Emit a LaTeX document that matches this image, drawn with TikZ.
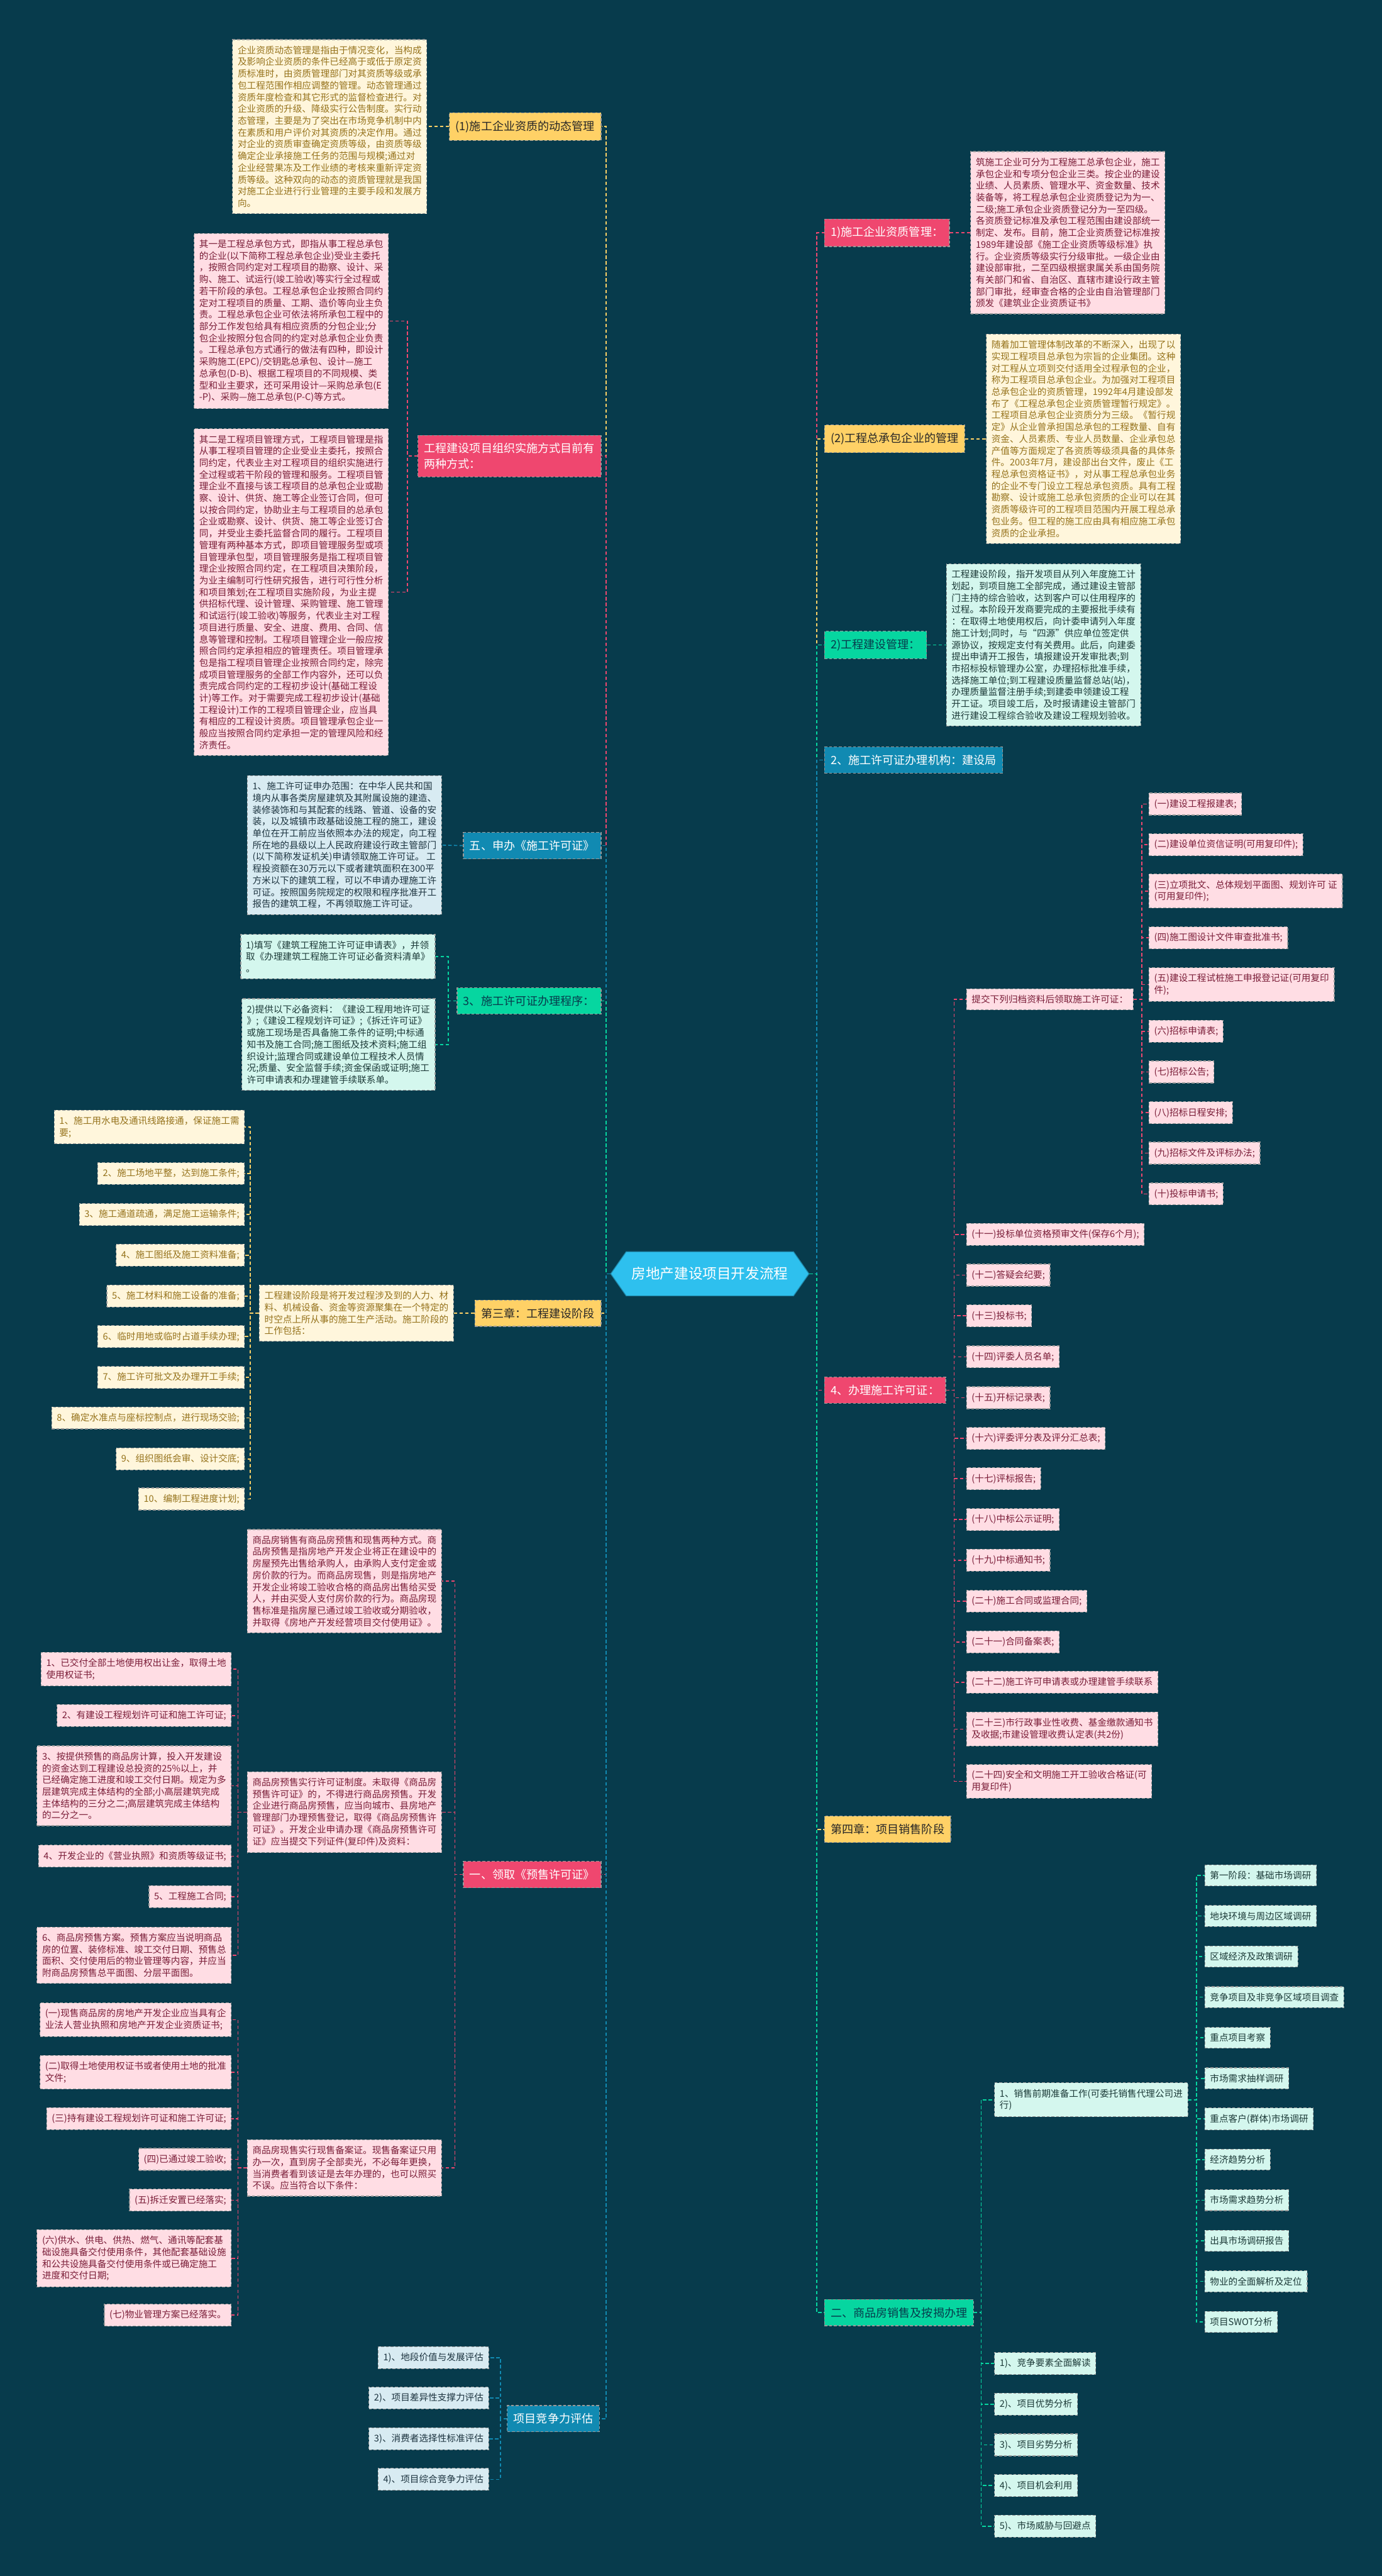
\documentclass[tikz,border=0pt]{standalone}
\usepackage{fontspec}
\setmainfont{Noto Sans CJK SC}
\usetikzlibrary{shapes.symbols}

\definecolor{bgc}{HTML}{073B4C}
\definecolor{pnkc}{HTML}{EF476F}
\definecolor{yelc}{HTML}{FFD166}
\definecolor{grnc}{HTML}{06D6A0}
\definecolor{bluc}{HTML}{118AB2}
\definecolor{hubc}{HTML}{2EC0EE}
\definecolor{pnkl}{HTML}{FFDDE4}
\definecolor{pnkt}{HTML}{7A1D38}
\definecolor{yell}{HTML}{FFF6DC}
\definecolor{yelt}{HTML}{96731C}
\definecolor{grnl}{HTML}{D4F7EE}
\definecolor{grnt}{HTML}{1C3A38}
\definecolor{blul}{HTML}{D8EBF2}
\definecolor{blut}{HTML}{1D3440}

\tikzset{
  conn/.style={draw=#1, line width=0.55pt, dash pattern=on 1.8pt off 1.2pt},
  topic/.style={rectangle, draw=black!40, dash pattern=on 1.5pt off 1pt, line width=0.4pt,
    inner xsep=0.115cm, inner ysep=0.145cm, font=\fontsize{6}{8.1}\selectfont, align=left},
  hub/.style={signal, signal to=west and east, signal pointer angle=110, fill=hubc,
    draw=hubc!70!black, line width=0.4pt, text=white, font=\fontsize{7.5}{9}\selectfont,
    minimum height=0.82cm, inner xsep=0.1cm},
  leaf/.style={rectangle, draw=black!40, dash pattern=on 1.5pt off 1pt, line width=0.4pt,
    inner xsep=0.095cm, inner ysep=0.115cm, font=\fontsize{4.85}{6.2}\selectfont, align=left},
  pkleaf/.style={leaf, fill=pnkl, text=pnkt},
  ylleaf/.style={leaf, fill=yell, text=yelt},
  gnleaf/.style={leaf, fill=grnl, text=grnt},
  blleaf/.style={leaf, fill=blul, text=blut},
}

\begin{document}
\begin{tikzpicture}[x=0.03044cm, y=-0.03044cm]
\useasboundingbox (0,0) rectangle (841,1567.3);
\fill[bgc] (0,0) rectangle (841,1567.3);

% centre
\node[hub] (hub) at (432,775) {房地产建设项目开发流程};

% ---------- left side ----------
\node[topic, fill=yelc, text=black!85, anchor=east] (dyn) at (366,77) {(1)施工企业资质的动态管理};
\node[ylleaf, anchor=east] (dynT) at (260,77) {企业资质动态管理是指由于情况变化，当构成\\及影响企业资质的条件已经高于或低于原定资\\质标准时，由资质管理部门对其资质等级或承\\包工程范围作相应调整的管理。动态管理通过\\资质年度检查和其它形式的监督检查进行。对\\企业资质的升级、降级实行公告制度。实行动\\态管理，主要是为了突出在市场竞争机制中内\\在素质和用户评价对其资质的决定作用。通过\\对企业的资质审查确定资质等级，由资质等级\\确定企业承接施工任务的范围与规模;通过对\\企业经营果冻及工作业绩的考核来重新评定资\\质等级。这种双向的动态的资质管理就是我国\\对施工企业进行行业管理的主要手段和发展方\\向。};
\draw[conn=yelc] (dyn.west) -- (dynT.east);

\node[topic, fill=pnkc, text=white, anchor=east] (org) at (366,277.5) {工程建设项目组织实施方式目前有\\两种方式：};
\node[pkleaf, anchor=east] (orgA) at (236.6,195.3) {其一是工程总承包方式，即指从事工程总承包\\的企业(以下简称工程总承包企业)受业主委托\\，按照合同约定对工程项目的勘察、设计、采\\购、施工、试运行(竣工验收)等实行全过程或\\若干阶段的承包。工程总承包企业按照合同约\\定对工程项目的质量、工期、造价等向业主负\\责。工程总承包企业可依法将所承包工程中的\\部分工作发包给具有相应资质的分包企业;分\\包企业按照分包合同的约定对总承包企业负责\\。工程总承包方式通行的做法有四种，即设计\\采购施工(EPC)/交钥匙总承包、设计—施工\\总承包(D-B)、根据工程项目的不同规模、类\\型和业主要求，还可采用设计—采购总承包(E\\-P)、采购—施工总承包(P-C)等方式。};
\node[pkleaf, anchor=east] (orgB) at (236.6,360.3) {其二是工程项目管理方式，工程项目管理是指\\从事工程项目管理的企业受业主委托，按照合\\同约定，代表业主对工程项目的组织实施进行\\全过程或若干阶段的管理和服务。工程项目管\\理企业不直接与该工程项目的总承包企业或勘\\察、设计、供货、施工等企业签订合同，但可\\以按合同约定，协助业主与工程项目的总承包\\企业或勘察、设计、供货、施工等企业签订合\\同，并受业主委托监督合同的履行。工程项目\\管理有两种基本方式，即项目管理服务型或项\\目管理承包型，项目管理服务是指工程项目管\\理企业按照合同约定，在工程项目决策阶段，\\为业主编制可行性研究报告，进行可行性分析\\和项目策划;在工程项目实施阶段，为业主提\\供招标代理、设计管理、采购管理、施工管理\\和试运行(竣工验收)等服务，代表业主对工程\\项目进行质量、安全、进度、费用、合同、信\\息等管理和控制。工程项目管理企业一般应按\\照合同约定承担相应的管理责任。项目管理承\\包是指工程项目管理企业按照合同约定，除完\\成项目管理服务的全部工作内容外，还可以负\\责完成合同约定的工程初步设计(基础工程设\\计)等工作。对于需要完成工程初步设计(基础\\工程设计)工作的工程项目管理企业，应当具\\有相应的工程设计资质。项目管理承包企业一\\般应当按照合同约定承担一定的管理风险和经\\济责任。};
\draw[conn=pnkc] (org.west) -- ++(-6,0) |- (orgA.east);
\draw[conn=pnkc] (org.west) -- ++(-6,0) |- (orgB.east);

\node[topic, fill=bluc, text=white, anchor=east] (permit) at (366,514.5) {五、申办《施工许可证》};
\node[blleaf, anchor=east] (permitT) at (269,514.2) {1、施工许可证申办范围：在中华人民共和国\\境内从事各类房屋建筑及其附属设施的建造、\\装修装饰和与其配套的线路、管道、设备的安\\装，以及城镇市政基础设施工程的施工，建设\\单位在开工前应当依照本办法的规定，向工程\\所在地的县级以上人民政府建设行政主管部门\\(以下简称发证机关)申请领取施工许可证。 工\\程投资额在30万元以下或者建筑面积在300平\\方米以下的建筑工程，可以不申请办理施工许\\可证。按照国务院规定的权限和程序批准开工\\报告的建筑工程，不再领取施工许可证。};
\draw[conn=bluc] (permit.west) -- (permitT.east);

\node[topic, fill=grnc, text=bgc, anchor=east] (proc) at (366,609) {3、施工许可证办理程序：};
\node[gnleaf, anchor=east] (procA) at (265,582) {1)填写《建筑工程施工许可证申请表》，并领\\取《办理建筑工程施工许可证必备资料清单》\\。};
\node[gnleaf, anchor=east] (procB) at (265,635.5) {2)提供以下必备资料：《建设工程用地许可证\\》;《建设工程规划许可证》;《拆迁许可证》\\或施工现场是否具备施工条件的证明;中标通\\知书及施工合同;施工图纸及技术资料;施工组\\织设计;监理合同或建设单位工程技术人员情\\况;质量、安全监督手续;资金保函或证明;施工\\许可申请表和办理建管手续联系单。};
\draw[conn=grnc] (proc.west) -- ++(-5,0) |- (procA.east);
\draw[conn=grnc] (proc.west) -- ++(-5,0) |- (procB.east);

\node[topic, fill=yelc, text=black!85, anchor=east] (build) at (366,799) {第三章：工程建设阶段};
\node[ylleaf, anchor=east] (buildT) at (276.3,799) {工程建设阶段是将开发过程涉及到的人力、材\\料、机械设备、资金等资源聚集在一个特定的\\时空点上所从事的施工生产活动。施工阶段的\\工作包括：};
\draw[conn=yelc] (build.west) -- (buildT.east);
\foreach \n/\yy/\lbl in {1/685.7/1、施工用水电及通讯线路接通，保证施工需\\要;,
  2/714/2、施工场地平整，达到施工条件;, 3/738.9/3、施工通道疏通，满足施工运输条件;,
  4/763.7/4、施工图纸及施工资料准备;, 5/788.5/5、施工材料和施工设备的准备;,
  6/813.2/6、临时用地或临时占道手续办理;, 7/838/7、施工许可批文及办理开工手续;,
  8/862.7/8、确定水准点与座标控制点，进行现场交验;, 9/887.6/9、组织图纸会审、设计交底;,
  10/912/10、编制工程进度计划;}{
  \node[ylleaf, anchor=east] (bs\n) at (149,\yy) {\lbl};
  \draw[conn=yelc] (buildT.west) -- ++(-5.3,0) |- (bs\n.east);
}

\node[topic, fill=pnkc, text=white, anchor=east] (presale) at (366,1140.5) {一、领取《预售许可证》};
\node[pkleaf, anchor=east] (saleA) at (269,962) {商品房销售有商品房预售和现售两种方式。商\\品房预售是指房地产开发企业将正在建设中的\\房屋预先出售给承购人，由承购人支付定金或\\房价款的行为。而商品房现售，则是指房地产\\开发企业将竣工验收合格的商品房出售给买受\\人，并由买受人支付房价款的行为。商品房现\\售标准是指房屋已通过竣工验收或分期验收，\\并取得《房地产开发经营项目交付使用证》。};
\node[pkleaf, anchor=east] (saleB) at (269,1102.6) {商品房预售实行许可证制度。未取得《商品房\\预售许可证》的，不得进行商品房预售。开发\\企业进行商品房预售，应当向城市、县房地产\\管理部门办理预售登记，取得《商品房预售许\\可证》。开发企业申请办理《商品房预售许可\\证》应当提交下列证件(复印件)及资料：};
\node[pkleaf, anchor=east] (saleC) at (269,1319) {商品房现售实行现售备案证。现售备案证只用\\办一次，直到房子全部卖光，不必每年更换，\\当消费者看到该证是去年办理的，也可以照买\\不误。应当符合以下条件：};
\foreach \t in {saleA, saleB, saleC}
  \draw[conn=pnkc] (presale.west) -- ++(-5,0) |- (\t.east);
\foreach \n/\yy/\lbl in {1/1015.5/1、已交付全部土地使用权出让金，取得土地\\使用权证书;,
  2/1043.8/2、有建设工程规划许可证和施工许可证;,
  3/1086.5/3、按提供预售的商品房计算，投入开发建设\\的资金达到工程建设总投资的25\%以上，并\\已经确定施工进度和竣工交付日期。规定为多\\层建筑完成主体结构的全部;小高层建筑完成\\主体结构的三分之二;高层建筑完成主体结构\\的二分之一。,
  4/1129.3/4、开发企业的《营业执照》和资质等级证书;,
  5/1154/5、工程施工合同;,
  6/1189.6/6、商品房预售方案。预售方案应当说明商品\\房的位置、装修标准、竣工交付日期、预售总\\面积、交付使用后的物业管理等内容，并应当\\附商品房预售总平面图、分层平面图。}{
  \node[pkleaf, anchor=east] (pb\n) at (141,\yy) {\lbl};
  \draw[conn=pnkc] (saleB.west) -- ++(-5.5,0) |- (pb\n.east);
}
\foreach \n/\yy/\lbl in {1/1228.8/(一)现售商品房的房地产开发企业应当具有企\\业法人营业执照和房地产开发企业资质证书;,
  2/1260.8/(二)取得土地使用权证书或者使用土地的批准\\文件;,
  3/1289/(三)持有建设工程规划许可证和施工许可证;,
  4/1313.8/(四)已通过竣工验收;,
  5/1338.6/(五)拆迁安置已经落实;,
  6/1374/(六)供水、供电、供热、燃气、通讯等配套基\\础设施具备交付使用条件，其他配套基础设施\\和公共设施具备交付使用条件或已确定施工\\进度和交付日期;,
  7/1408.5/(七)物业管理方案已经落实。}{
  \node[pkleaf, anchor=east] (pc\n) at (141,\yy) {\lbl};
  \draw[conn=pnkc] (saleC.west) -- ++(-5.5,0) |- (pc\n.east);
}

\node[topic, fill=bluc, text=white, anchor=east] (comp) at (365,1471.6) {项目竞争力评估};
\foreach \n/\yy/\lbl in {1/1434.5/1)、地段价值与发展评估, 2/1459/2)、项目差异性支撑力评估,
  3/1483.8/3)、消费者选择性标准评估, 4/1508.5/4)、项目综合竞争力评估}{
  \node[blleaf, anchor=east] (cp\n) at (297.6,\yy) {\lbl};
  \draw[conn=bluc] (comp.west) -- ++(-4,0) |- (cp\n.east);
}

% ---------- right side ----------
\node[topic, fill=pnkc, text=white, anchor=west] (qual) at (501.5,141.6) {1)施工企业资质管理：};
\node[pkleaf, anchor=west] (qualT) at (590.5,141.6) {筑施工企业可分为工程施工总承包企业，施工\\承包企业和专项分包企业三类。按企业的建设\\业绩、人员素质、管理水平、资金数量、技术\\装备等，将工程总承包企业资质登记为为一、\\二级;施工承包企业资质登记分为一至四级。\\各资质登记标准及承包工程范围由建设部统一\\制定、发布。目前，施工企业资质登记标准按\\1989年建设部《施工企业资质等级标准》执\\行。企业资质等级实行分级审批。一级企业由\\建设部审批，二至四级根据隶属关系由国务院\\有关部门和省、自治区、直辖市建设行政主管\\部门审批，经审查合格的企业由自治管理部门\\颁发《建筑业企业资质证书》};
\draw[conn=pnkc] (qual.east) -- (qualT.west);

\node[topic, fill=yelc, text=black!85, anchor=west] (gc) at (501.5,267) {(2)工程总承包企业的管理};
\node[ylleaf, anchor=west] (gcT) at (600,267) {随着加工管理体制改革的不断深入，出现了以\\实现工程项目总承包为宗旨的企业集团。这种\\对工程从立项到交付适用全过程承包的企业，\\称为工程项目总承包企业。为加强对工程项目\\总承包企业的资质管理，1992年4月建设部发\\布了《工程总承包企业资质管理暂行规定》。\\工程项目总承包企业资质分为三级。《暂行规\\定》从企业曾承担国总承包的工程数量、自有\\资金、人员素质、专业人员数量、企业承包总\\产值等方面规定了各资质等级须具备的具体条\\件。2003年7月，建设部出台文件，废止《工\\程总承包资格证书》，对从事工程总承包业务\\的企业不专门设立工程总承包资质。具有工程\\勘察、设计或施工总承包资质的企业可以在其\\资质等级许可的工程项目范围内开展工程总承\\包业务。但工程的施工应由具有相应施工承包\\资质的企业承担。};
\draw[conn=yelc] (gc.east) -- (gcT.west);

\node[topic, fill=grnc, text=bgc, anchor=west] (cm) at (501.5,392.4) {2)工程建设管理：};
\node[gnleaf, anchor=west] (cmT) at (575.7,392.4) {工程建设阶段，指开发项目从列入年度施工计\\划起，到项目施工全部完成，通过建设主管部\\门主持的综合验收，达到客户可以住用程序的\\过程。本阶段开发商要完成的主要报批手续有\\：在取得土地使用权后，向计委申请列入年度\\施工计划;同时，与“四源”供应单位签定供\\源协议，按规定支付有关费用。此后，向建委\\提出申请开工报告，填报建设开发审批表;到\\市招标投标管理办公室，办理招标批准手续，\\选择施工单位;到工程建设质量监督总站(站)，\\办理质量监督注册手续;到建委申领建设工程\\开工证。项目竣工后，及时报请建设主管部门\\进行建设工程综合验收及建设工程规划验收。};
\draw[conn=grnc] (cm.east) -- (cmT.west);

\node[topic, fill=bluc, text=white, anchor=west] (agency) at (501.5,462.4) {2、施工许可证办理机构：建设局};

\node[topic, fill=pnkc, text=white, anchor=west] (apply) at (501.5,845.8) {4、办理施工许可证：};
\node[pkleaf, anchor=west] (docs) at (588,608) {提交下列归档资料后领取施工许可证：};
\draw[conn=pnkc] (apply.east) -- ++(5,0) |- (docs.west);
\foreach \n/\yy/\lbl in {1/489.2/(一)建设工程报建表;, 2/513.9/(二)建设单位资信证明(可用复印件);,
  3/542.1/(三)立项批文、总体规划平面图、规划许可 证\\(可用复印件);,
  4/570.6/(四)施工图设计文件审查批准书;,
  5/599/(五)建设工程试桩施工申报登记证(可用复印\\件);,
  6/627.4/(六)招标申请表;, 7/652.2/(七)招标公告;, 8/677/(八)招标日程安排;,
  9/701.6/(九)招标文件及评标办法;, 10/726.4/(十)投标申请书;}{
  \node[pkleaf, anchor=west] (dc\n) at (699,\yy) {\lbl};
  \draw[conn=pnkc] (docs.east) -- ++(5,0) |- (dc\n.west);
}
\foreach \n/\yy/\lbl in {11/751/(十一)投标单位资格预审文件(保存6个月);, 12/775.8/(十二)答疑会纪要;,
  13/800.6/(十三)投标书;, 14/825.5/(十四)评委人员名单;, 15/850.4/(十五)开标记录表;,
  16/875.2/(十六)评委评分表及评分汇总表;, 17/899.7/(十七)评标报告;,
  18/924.5/(十八)中标公示证明;, 19/949.3/(十九)中标通知书;,
  20/974.2/(二十)施工合同或监理合同;, 21/999/(二十一)合同备案表;,
  22/1023.5/(二十二)施工许可申请表或办理建管手续联系,
  23/1052/(二十三)市行政事业性收费、基金缴款通知书\\及收据;市建设管理收费认定表(共2份),
  24/1083.8/(二十四)安全和文明施工开工验收合格证(可\\用复印件)}{
  \node[pkleaf, anchor=west] (dc\n) at (588,\yy) {\lbl};
  \draw[conn=pnkc] (apply.east) -- ++(5,0) |- (dc\n.west);
}

\node[topic, fill=yelc, text=black!85, anchor=west] (sales4) at (501.5,1113) {第四章：项目销售阶段};

\node[topic, fill=grnc, text=bgc, anchor=west] (mort) at (501.5,1407) {二、商品房销售及按揭办理};
\node[gnleaf, anchor=west] (prep) at (605,1277.5) {1、销售前期准备工作(可委托销售代理公司进\\行)};
\draw[conn=grnc] (mort.east) -- ++(4.4,0) |- (prep.west);
\foreach \n/\lbl [count=\k from 0] in {1/第一阶段：基础市场调研, 2/地块环境与周边区域调研,
  3/区域经济及政策调研, 4/竞争项目及非竞争区域项目调查, 5/重点项目考察,
  6/市场需求抽样调研, 7/重点客户(群体)市场调研, 8/经济趋势分析, 9/市场需求趋势分析,
  10/出具市场调研报告, 11/物业的全面解析及定位, 12/项目SWOT分析}{
  \node[gnleaf, anchor=west] (st\n) at (733,1141+24.7*\k) {\lbl};
  \draw[conn=grnc] (prep.east) -- ++(5,0) |- (st\n.west);
}
\foreach \n/\yy/\lbl in {1/1438/1)、竞争要素全面解读, 2/1462.7/2)、项目优势分析,
  3/1487.5/3)、项目劣势分析, 4/1512.3/4)、项目机会利用, 5/1537/5)、市场威胁与回避点}{
  \node[gnleaf, anchor=west] (sw\n) at (605,\yy) {\lbl};
  \draw[conn=grnc] (mort.east) -- ++(4.4,0) |- (sw\n.west);
}

% ---------- trunk ----------
\foreach \t/\c in {dyn/yelc, org/pnkc, permit/bluc, proc/grnc, build/yelc, presale/pnkc, comp/bluc}
  \draw[conn=\c] (hub.west) -- ++(-2.5,0) |- (\t.east);
\foreach \t/\c in {qual/pnkc, gc/yelc, cm/grnc, agency/bluc, apply/pnkc, sales4/yelc, mort/grnc}
  \draw[conn=\c] (hub.east) -- ++(4.5,0) |- (\t.west);
\end{tikzpicture}
\end{document}
